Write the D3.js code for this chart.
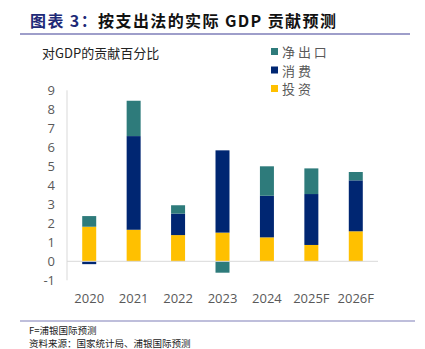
<!DOCTYPE html>
<html><head><meta charset="utf-8">
<script src="https://cdn.jsdelivr.net/npm/d3@7/dist/d3.min.js"></script>
<style>
html,body{margin:0;padding:0;background:#fff;}
svg{display:block;font-family:"Noto Sans CJK SC","Open Sans",sans-serif;}
</style></head>
<body>
<script>
const categories = ["2020","2021","2022","2023","2024","2025F","2026F"];
const investment = [1.82, 1.66, 1.38, 1.51, 1.26, 0.86, 1.58];
const consumption = [-0.15, 4.93, 1.13, 4.33, 2.19, 2.68, 2.68];
const netExports = [0.56, 1.86, 0.44, -0.60, 1.55, 1.35, 0.44];
const yTicks = [-1,0,1,2,3,4,5,6,7,8,9];
const seriesNames = ["投资","消费","净出口"];
const seriesColors = ["#FFC000","#002672","#2E7B7B"];

const W = 425, H = 349;
const svg = d3.select("body").append("svg").attr("width", W).attr("height", H);

// Title
const title = svg.append("text").attr("x", 30).attr("y", 27)
  .attr("font-size", 16).attr("font-weight", "bold").attr("letter-spacing", 1.4);
title.append("tspan").attr("fill", "#1F2A78").text("图表 3：");
title.append("tspan").attr("fill", "#111").text("按支出法的实际 GDP 贡献预测");
svg.append("line").attr("x1", 20).attr("x2", 410).attr("y1", 34).attr("y2", 34)
  .attr("stroke", "#7E7EB8").attr("stroke-width", 1.5);

// Subtitle
svg.append("text").attr("x", 42).attr("y", 58).attr("font-size", 13).attr("fill", "#222")
  .text("对GDP的贡献百分比");

const x = d3.scaleBand().domain(categories).range([67, 378]).paddingInner(0.685).paddingOuter(0.3425);
const y = d3.scaleLinear().domain([-1, 9]).range([280.3, 90.3]);

// stacking with separate positive/negative
const rows = categories.map((c, i) => ({cat: c, v: [investment[i], consumption[i], netExports[i]]}));
const g = svg.append("g");
rows.forEach(r => {
  let pos = 0, neg = 0;
  r.v.forEach((v, k) => {
    let y0, y1;
    if (v >= 0) { y0 = pos; y1 = pos + v; pos = y1; }
    else { y0 = neg; y1 = neg + v; neg = y1; }
    g.append("rect").attr("x", x(r.cat)).attr("width", x.bandwidth())
      .attr("y", y(Math.max(y0, y1))).attr("height", Math.abs(y(y0) - y(y1)))
      .attr("fill", seriesColors[k]);
  });
});

// axes
svg.append("line").attr("x1", 67).attr("x2", 67).attr("y1", y(9)).attr("y2", y(-1))
  .attr("stroke", "#d9d9d9");
svg.append("line").attr("x1", 67).attr("x2", 378).attr("y1", y(0)).attr("y2", y(0))
  .attr("stroke", "#d9d9d9");

const yAxis = svg.append("g").attr("transform", "translate(67,0)")
  .call(d3.axisLeft(y).tickValues(yTicks).tickSize(0).tickPadding(12).tickFormat(d => String(d)));
yAxis.select(".domain").remove();
yAxis.selectAll("text").attr("font-size", 13).attr("fill", "#595959").attr("font-family", "'Open Sans',sans-serif");

const xAxis = svg.append("g").attr("transform", "translate(0,290)")
  .call(d3.axisBottom(x).tickSize(0).tickPadding(4));
xAxis.select(".domain").remove();
xAxis.selectAll("text").attr("font-size", 13).attr("fill", "#595959").attr("font-family", "'Open Sans',sans-serif");

// legend
const legendOrder = [2,1,0];
legendOrder.forEach((k, i) => {
  const ly = 52 + i * 18.5;
  svg.append("rect").attr("x", 271).attr("y", ly - 4).attr("width", 7).attr("height", 7).attr("fill", seriesColors[k]);
  svg.append("text").attr("x", 282).attr("y", ly + 5).attr("font-size", 13).attr("fill", "#595959")
    .attr("font-family", "'Noto Sans CJK SC',sans-serif").text(seriesNames[k].split("").join(" "));
});

// footer
svg.append("line").attr("x1", 20).attr("x2", 415).attr("y1", 321).attr("y2", 321)
  .attr("stroke", "#7E7EB8").attr("stroke-width", 1.2);
svg.append("text").attr("x", 29).attr("y", 334).attr("font-size", 9.5).attr("fill", "#222").text("F=浦银国际预测");
svg.append("text").attr("x", 29).attr("y", 347).attr("font-size", 9.5).attr("fill", "#222").text("资料来源：国家统计局、浦银国际预测");
</script>
</body></html>
